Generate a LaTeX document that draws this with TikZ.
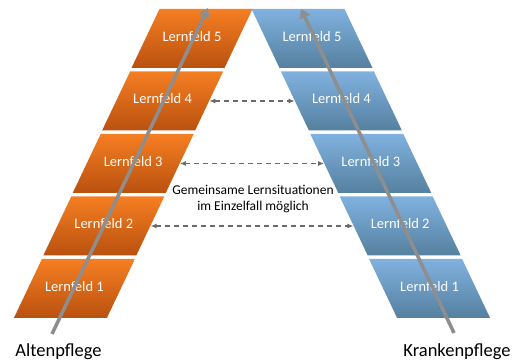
\documentclass[tikz,border=0pt]{standalone}
\usepackage{fontspec}
\setmainfont{Carlito}
\usepackage{tikz}
\usetikzlibrary{arrows.meta,positioning,calc,shapes.geometric}
\definecolor{altTop}{HTML}{F67E22}
\definecolor{altBot}{HTML}{B9510F}
\definecolor{kraTop}{HTML}{80B1DF}
\definecolor{kraBot}{HTML}{55809F}
\definecolor{pfeil}{HTML}{8E8E8E}
\definecolor{strich}{HTML}{6A6A6A}

\begin{document}
\begin{tikzpicture}[
    x=1pt,y=1pt,
    feld/.style={trapezium,trapezium stretches body,minimum width=121pt,
      text height=9pt,text depth=3pt,inner xsep=2pt,inner ysep=23.5pt,
      text=white,font=\fontsize{14.5}{16}\selectfont},
    altfeld/.style={feld,trapezium left angle=64.6,trapezium right angle=115.4,top color=altTop,bottom color=altBot},
    krafeld/.style={feld,trapezium left angle=115.4,trapezium right angle=64.6,top color=kraTop,bottom color=kraBot},
    weg/.style={line width=3.5pt,draw=pfeil,-{Triangle[length=9pt,width=11pt]}},
    quer/.style={line width=1.2pt,draw=strich,dash pattern=on 5pt off 4pt,{Latex[length=6pt,width=5pt]}-{Latex[length=6pt,width=5pt]}},
    >=Latex]
    \useasboundingbox (0,0) rectangle (514,363);
    % Altenpflege
    \node[altfeld] (alt1) at (74.4,74.5) {Lernfeld 1};
    \node[altfeld] (alt2) at (103.8,137) {Lernfeld 2};
    \node[altfeld] (alt3) at (133.2,199.5) {Lernfeld 3};
    \node[altfeld] (alt4) at (162.6,262) {Lernfeld 4};
    \node[altfeld] (alt5) at (192,324.5) {Lernfeld 5};
    % Krankenpflege
    \node[krafeld] (kra1) at (429.6,74.5) {Lernfeld 1};
    \node[krafeld] (kra2) at (400.2,137) {Lernfeld 2};
    \node[krafeld] (kra3) at (370.8,199.5) {Lernfeld 3};
    \node[krafeld] (kra4) at (341.4,262) {Lernfeld 4};
    \node[krafeld] (kra5) at (312,324.5) {Lernfeld 5};
    % Wege
    \coordinate (altA) at (52,29);
    \coordinate (altE) at (208,355);
    \coordinate (kraA) at (454,30);
    \coordinate (kraE) at (301,354);
    \draw[weg] (altA) -- (altE);
    \draw[weg] (kraA) -- (kraE);
    % Verbindungen
    \draw[quer] (alt4.east) -- (kra4.west);
    \draw[quer] (alt3.east) -- (kra3.west);
    \draw[quer] (alt2.east) -- (kra2.west);
    \node[align=center,font=\fontsize{13.5}{16.5}\selectfont] (gemein) at (253,164) {Gemeinsame Lernsituationen\\im Einzelfall möglich};
    \node[font=\fontsize{18.5}{20}\selectfont] (alten) at (58.5,11) {Altenpflege};
    \node[font=\fontsize{18.5}{20}\selectfont] (kranken) at (457,11) {Krankenpflege};
  \end{tikzpicture}
\end{document}
